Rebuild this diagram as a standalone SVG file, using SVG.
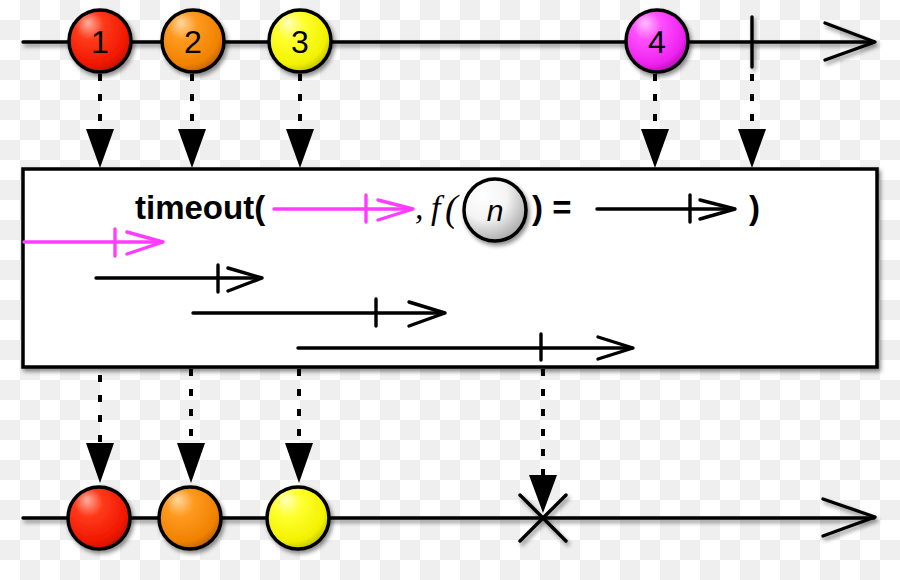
<svg xmlns="http://www.w3.org/2000/svg" width="900" height="580" viewBox="0 0 900 580">
<defs>
  <pattern id="checker" x="0" y="0" width="40" height="40" patternUnits="userSpaceOnUse">
    <rect width="40" height="40" fill="#ffffff"/>
    <rect x="20" y="0" width="20" height="20" fill="#efefef"/>
    <rect x="0" y="20" width="20" height="20" fill="#efefef"/>
  </pattern>
  <filter id="shadow" x="-20%" y="-20%" width="140%" height="160%">
    <feDropShadow dx="2" dy="3" stdDeviation="2" flood-color="#000" flood-opacity="0.45"/>
  </filter>
  <radialGradient id="gRed" cx="0.4" cy="0.35" r="0.65" fx="0.3" fy="0.2">
    <stop offset="0" stop-color="#ffb0a0"/>
    <stop offset="0.35" stop-color="#ff3a1a"/>
    <stop offset="0.85" stop-color="#f01800"/>
    <stop offset="1" stop-color="#c81000"/>
  </radialGradient>
  <radialGradient id="gOrange" cx="0.4" cy="0.35" r="0.65" fx="0.3" fy="0.2">
    <stop offset="0" stop-color="#ffd7a0"/>
    <stop offset="0.35" stop-color="#ff9a20"/>
    <stop offset="0.85" stop-color="#f08200"/>
    <stop offset="1" stop-color="#c86800"/>
  </radialGradient>
  <radialGradient id="gYellow" cx="0.4" cy="0.35" r="0.65" fx="0.3" fy="0.2">
    <stop offset="0" stop-color="#ffffc0"/>
    <stop offset="0.35" stop-color="#ffff30"/>
    <stop offset="0.85" stop-color="#f2f200"/>
    <stop offset="1" stop-color="#c8c800"/>
  </radialGradient>
  <radialGradient id="gMagenta" cx="0.4" cy="0.35" r="0.65" fx="0.3" fy="0.2">
    <stop offset="0" stop-color="#ffc0ff"/>
    <stop offset="0.35" stop-color="#ff50ff"/>
    <stop offset="0.85" stop-color="#ee22ee"/>
    <stop offset="1" stop-color="#c010c0"/>
  </radialGradient>
  <radialGradient id="gWhite" cx="0.35" cy="0.3" r="0.75" fx="0.3" fy="0.25">
    <stop offset="0" stop-color="#ffffff"/>
    <stop offset="0.5" stop-color="#f4f4f4"/>
    <stop offset="1" stop-color="#a8a8a8"/>
  </radialGradient>
  <style>
    .line { stroke: #000; stroke-width: 3.4; fill: none; stroke-linecap: round; stroke-linejoin: round; }
    .mline { stroke: #ff3cff; stroke-width: 3.4; fill: none; stroke-linecap: round; stroke-linejoin: round; }
    .dot { stroke: #000; stroke-width: 4; fill: none; stroke-dasharray: 7 13; }
    .head { fill: #000; }
    .marble { stroke: #000; stroke-width: 3.5; }
    .num { font-family: "Liberation Sans", Arial, sans-serif; font-size: 32px; fill: #000; text-anchor: middle; }
    .bold { font-family: "Liberation Sans", Arial, sans-serif; font-size: 33px; font-weight: bold; fill: #000; }
    .ital { font-family: "Liberation Serif", "Times New Roman", serif; font-style: italic; fill: #000; }
  </style>
</defs>

<rect width="900" height="580" fill="url(#checker)"/>

<!-- timelines -->
<g id="top-timeline" filter="url(#shadow)">
  <line class="line" x1="23" y1="42" x2="874" y2="42"/>
  <polyline class="line" points="825,23 875,42 825,60"/>
  <line class="line" x1="752" y1="17" x2="752" y2="67"/>
</g>
<g id="bottom-timeline" filter="url(#shadow)">
  <line class="line" x1="23" y1="518" x2="874" y2="518"/>
  <polyline class="line" points="823,499 875,517 823,536"/>
  <line class="line" x1="520" y1="495" x2="566" y2="541"/>
  <line class="line" x1="566" y1="495" x2="520" y2="541"/>
</g>

<!-- connectors -->
<g id="connectors">
  <line class="dot" x1="100" y1="74" x2="100" y2="132"/>
  <polygon class="head" points="86,129 114,129 100,168"/>
  <line class="dot" x1="192" y1="74" x2="192" y2="132"/>
  <polygon class="head" points="178,129 206,129 192,168"/>
  <line class="dot" x1="300" y1="74" x2="300" y2="132"/>
  <polygon class="head" points="286,129 314,129 300,168"/>
  <line class="dot" x1="655" y1="74" x2="655" y2="132"/>
  <polygon class="head" points="641,129 669,129 655,168"/>
  <line class="dot" x1="752" y1="74" x2="752" y2="132"/>
  <polygon class="head" points="738,129 766,129 752,168"/>

  <line class="dot" x1="100" y1="375" x2="100" y2="446"/>
  <polygon class="head" points="86,443 114,443 100,483"/>
  <line class="dot" x1="191" y1="369" x2="191" y2="446"/>
  <polygon class="head" points="177,443 205,443 191,483"/>
  <line class="dot" x1="299" y1="369" x2="299" y2="446"/>
  <polygon class="head" points="285,443 313,443 299,483"/>
  <line class="dot" x1="543" y1="369" x2="543" y2="478"/>
  <polygon class="head" points="529,475 557,475 543,513"/>
</g>

<!-- operator box -->
<g id="operator-box">
  <rect x="23" y="169" width="854" height="198" fill="#ffffff" stroke="#000" stroke-width="3.5" filter="url(#shadow)"/>
  <text class="bold" x="135" y="219">timeout(</text>
  <g id="formula-timeout-arrow">
    <line class="mline" x1="274" y1="209" x2="412" y2="209"/>
    <line class="mline" x1="366" y1="195" x2="366" y2="222"/>
    <polyline class="mline" points="378,200 413,209 378,220"/>
  </g>
  <text class="ital" x="415" y="219" font-size="34">,</text>
  <text class="ital" x="431" y="219" font-size="34">f</text>
  <text class="ital" x="445" y="221" font-size="38">(</text>
  <g id="n-marble">
    <circle cx="495" cy="210" r="31" fill="url(#gWhite)" stroke="#000" stroke-width="3.5" filter="url(#shadow)"/>
    <text x="495" y="221" font-family="'Liberation Sans', Arial, sans-serif" font-style="italic" font-size="30" text-anchor="middle" fill="#000">n</text>
  </g>
  <text class="bold" x="532" y="219">) =</text>
  <g id="formula-result-arrow">
    <line class="line" x1="597" y1="209" x2="734" y2="209"/>
    <line class="line" x1="690" y1="195" x2="690" y2="222"/>
    <polyline class="line" points="700,200 735,209 700,219"/>
  </g>
  <text class="bold" x="749" y="219">)</text>

  <g id="timeout-row-0">
    <line class="mline" x1="24" y1="242" x2="162" y2="242"/>
    <line class="mline" x1="115" y1="229" x2="115" y2="256"/>
    <polyline class="mline" points="127,232 163,242 127,254"/>
  </g>
  <g id="timeout-row-1">
    <line class="line" x1="96" y1="278" x2="261" y2="278"/>
    <line class="line" x1="218" y1="265" x2="218" y2="292"/>
    <polyline class="line" points="228,268 262,278 228,291"/>
  </g>
  <g id="timeout-row-2">
    <line class="line" x1="193" y1="313" x2="444" y2="313"/>
    <line class="line" x1="376" y1="299" x2="376" y2="326"/>
    <polyline class="line" points="409,302 445,313 409,326"/>
  </g>
  <g id="timeout-row-3">
    <line class="line" x1="298" y1="348" x2="632" y2="348"/>
    <line class="line" x1="541" y1="334" x2="541" y2="360"/>
    <polyline class="line" points="598,337 633,348 598,359"/>
  </g>
</g>

<!-- top marbles -->
<g id="marble-top-1">
  <circle class="marble" cx="100" cy="41" r="31" fill="url(#gRed)" filter="url(#shadow)"/>
  <text class="num" x="100" y="53">1</text>
</g>
<g id="marble-top-2">
  <circle class="marble" cx="193" cy="41" r="31" fill="url(#gOrange)" filter="url(#shadow)"/>
  <text class="num" x="193" y="53">2</text>
</g>
<g id="marble-top-3">
  <circle class="marble" cx="300" cy="41" r="31" fill="url(#gYellow)" filter="url(#shadow)"/>
  <text class="num" x="300" y="53">3</text>
</g>
<g id="marble-top-4">
  <circle class="marble" cx="657" cy="41" r="31" fill="url(#gMagenta)" filter="url(#shadow)"/>
  <text class="num" x="657" y="53">4</text>
</g>

<!-- bottom marbles -->
<g id="marble-bottom-1">
  <circle class="marble" cx="99" cy="518" r="31" fill="url(#gRed)" filter="url(#shadow)"/>
</g>
<g id="marble-bottom-2">
  <circle class="marble" cx="190" cy="518" r="31" fill="url(#gOrange)" filter="url(#shadow)"/>
</g>
<g id="marble-bottom-3">
  <circle class="marble" cx="298" cy="518" r="31" fill="url(#gYellow)" filter="url(#shadow)"/>
</g>
</svg>
